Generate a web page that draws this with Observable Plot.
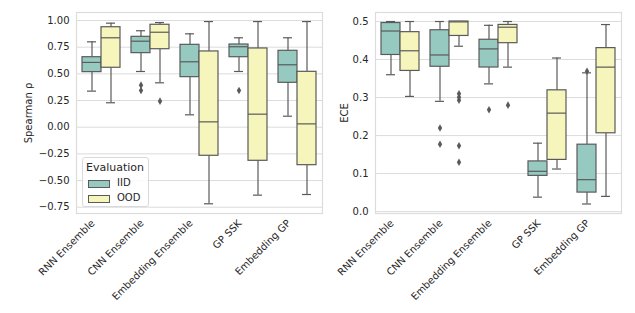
<!DOCTYPE html>
<html><head><meta charset="utf-8">
<script src="https://cdn.jsdelivr.net/npm/d3@7"></script>
<script src="https://cdn.jsdelivr.net/npm/@observablehq/plot@0.6"></script>
<style>
body{margin:0;background:#fff;font-family:"DejaVu Sans",sans-serif;}
#root{position:relative;width:635px;height:313px;overflow:hidden;}
.panel{position:absolute;top:0;height:313px;}
.layer{position:absolute;left:0;top:0;}
.legend{position:absolute;left:82px;top:157px;width:67px;height:50px;box-sizing:border-box;border:1px solid #d9d9d9;border-radius:3px;background:rgba(255,255,255,0.85);color:#262626;font-size:10px;}
.legend .t{position:absolute;left:3px;top:3px;font-size:11px;}
.legend .sw{position:absolute;left:5px;width:20px;height:6px;border:1px solid #5a5a5a;}
.legend .lb{position:absolute;left:34px;}
</style></head><body><div id="root"></div>
<script>
// ---- data ----
const models = ["RNN Ensemble", "CNN Ensemble", "Embedding Ensemble", "GP SSK", "Embedding GP"];
const evals = ["IID", "OOD"];
const colors = ["#96cac1", "#f5f5bc"];
// box stats per model: [whiskerLow, q1, median, q3, whiskerHigh]
const spearmanIID = [[0.338,0.516,0.607,0.656,0.80],[0.522,0.694,0.806,0.847,0.904],[0.116,0.469,0.613,0.772,0.875],[0.522,0.656,0.754,0.775,0.838],[0.103,0.416,0.585,0.716,0.838]];
const spearmanOOD = [[0.229,0.557,0.838,0.937,0.975],[0.416,0.731,0.89,0.96,0.981],[-0.718,-0.268,0.05,0.71,0.99],[-0.637,-0.315,0.122,0.738,0.99],[-0.631,-0.356,0.031,0.519,0.99]];
const spearmanOutliers = [["CNN Ensemble","IID",0.394],["CNN Ensemble","IID",0.344],["CNN Ensemble","OOD",0.244],["GP SSK","IID",0.344]];
const eceIID = [[0.36,0.412,0.475,0.496,0.5],[0.29,0.381,0.412,0.477,0.5],[0.336,0.379,0.428,0.452,0.49],[0.038,0.094,0.106,0.132,0.18],[0.02,0.05,0.084,0.176,0.365]];
const eceOOD = [[0.303,0.37,0.423,0.472,0.5],[0.435,0.462,0.499,0.5,0.5],[0.38,0.443,0.485,0.491,0.5],[0.112,0.136,0.259,0.319,0.404],[0.04,0.206,0.38,0.43,0.492]];
const eceOutliers = [["CNN Ensemble","IID",0.22],["CNN Ensemble","IID",0.177],["CNN Ensemble","OOD",0.31],["CNN Ensemble","OOD",0.301],["CNN Ensemble","OOD",0.293],["CNN Ensemble","OOD",0.173],["CNN Ensemble","OOD",0.13],["Embedding Ensemble","IID",0.268],["Embedding Ensemble","OOD",0.28],["Embedding GP","IID",0.369]];
const spearmanTicks = [-0.75,-0.5,-0.25,0,0.25,0.5,0.75,1.0];
const eceTicks = [0,0.1,0.2,0.3,0.4,0.5];

// ---- build ----
const lineColor = "#5a5a5a";
const gridColor = "#dcdcdc";
const textColor = "#262626";

function toRows(iid, ood){
  const rows = [];
  models.forEach((m,i)=>{
    [[ "IID", iid[i]], ["OOD", ood[i]]].forEach(([e,s])=>{
      rows.push({model:m, eval:e, lo:s[0], q1:s[1], med:s[2], q3:s[3], hi:s[4]});
    });
  });
  return rows;
}
function toOut(list){ return list.map(([m,e,v])=>({model:m, eval:e, value:v})); }

function panel({left, width, marginLeft, marginRight, yDomain, ticks, fmt, label, labelOffset, rows, outs}){
  const div = document.createElement("div");
  div.className = "panel";
  div.style.left = left + "px";
  div.style.width = width + "px";
  const common = {width, height:313, marginLeft, marginRight, marginTop:12, marginBottom:100};
  const style = {background:"transparent", fontFamily:"DejaVu Sans", fontSize:"10px", color:textColor};
  const bg = Plot.plot({
    ...common, style,
    x:{domain:[0,1], axis:null},
    y:{domain:yDomain, axis:null},
    marks:[
      Plot.ruleY(ticks, {stroke:gridColor, strokeWidth:1}),
      Plot.frame({stroke:gridColor, strokeWidth:1.2}),
      Plot.axisY({ticks, tickFormat:fmt, tickSize:0, tickPadding:7, fontSize:10, label, labelAnchor:"center", labelArrow:"none", labelOffset})
    ]
  });
  bg.classList.add("layer");
  const fg = Plot.plot({
    ...common, style,
    fx:{domain:models, paddingInner:0.2, paddingOuter:0.1, axis:null},
    x:{domain:evals, paddingInner:0, paddingOuter:0, axis:null},
    y:{domain:yDomain, axis:null},
    color:{domain:evals, range:colors},
    marks:[
      Plot.ruleX(rows, {fx:"model", x:"eval", y1:"lo", y2:"q1", stroke:lineColor, strokeWidth:1.2}),
      Plot.ruleX(rows, {fx:"model", x:"eval", y1:"q3", y2:"hi", stroke:lineColor, strokeWidth:1.2}),
      Plot.tickY(rows, {fx:"model", x:"eval", y:"lo", stroke:lineColor, strokeWidth:1.2, insetLeft:5, insetRight:5}),
      Plot.tickY(rows, {fx:"model", x:"eval", y:"hi", stroke:lineColor, strokeWidth:1.2, insetLeft:5, insetRight:5}),
      Plot.barY(rows, {fx:"model", x:"eval", y1:"q1", y2:"q3", fill:"eval", stroke:lineColor, strokeWidth:1.2}),
      Plot.tickY(rows, {fx:"model", x:"eval", y:"med", stroke:lineColor, strokeWidth:1.2}),
      Plot.dot(outs, {fx:"model", x:"eval", y:"value", symbol:"diamond", r:2.3, fill:lineColor, stroke:"none"}),
      Plot.axisFx({anchor:"bottom", tickRotate:-45, tickSize:0, tickPadding:0, fontSize:10, label:null, dx:-8, dy:8, fill:textColor})
    ]
  });
  fg.classList.add("layer");
  div.appendChild(bg);
  div.appendChild(fg);
  return div;
}

const root = document.getElementById("root");
root.appendChild(panel({left:0, width:330, marginLeft:76, marginRight:8, yDomain:[-0.809,1.075], ticks:spearmanTicks, fmt:d3.format(".2f"), label:"Spearman ρ", labelOffset:52, rows:toRows(spearmanIID, spearmanOOD), outs:toOut(spearmanOutliers)}));
root.appendChild(panel({left:330, width:305, marginLeft:45, marginRight:14, yDomain:[-0.005,0.5237], ticks:eceTicks, fmt:d3.format(".1f"), label:"ECE", labelOffset:35, rows:toRows(eceIID, eceOOD), outs:toOut(eceOutliers)}));

// legend
const lg = document.createElement("div");
lg.className = "legend";
let html = '<div class="t">Evaluation</div>';
evals.forEach((e,i)=>{
  const top = 22 + i*15;
  html += `<div class="sw" style="top:${top}px;background:${colors[i]}"></div><div class="lb" style="top:${top-3}px">${e}</div>`;
});
lg.innerHTML = html;
root.appendChild(lg);
</script>
</body></html>
